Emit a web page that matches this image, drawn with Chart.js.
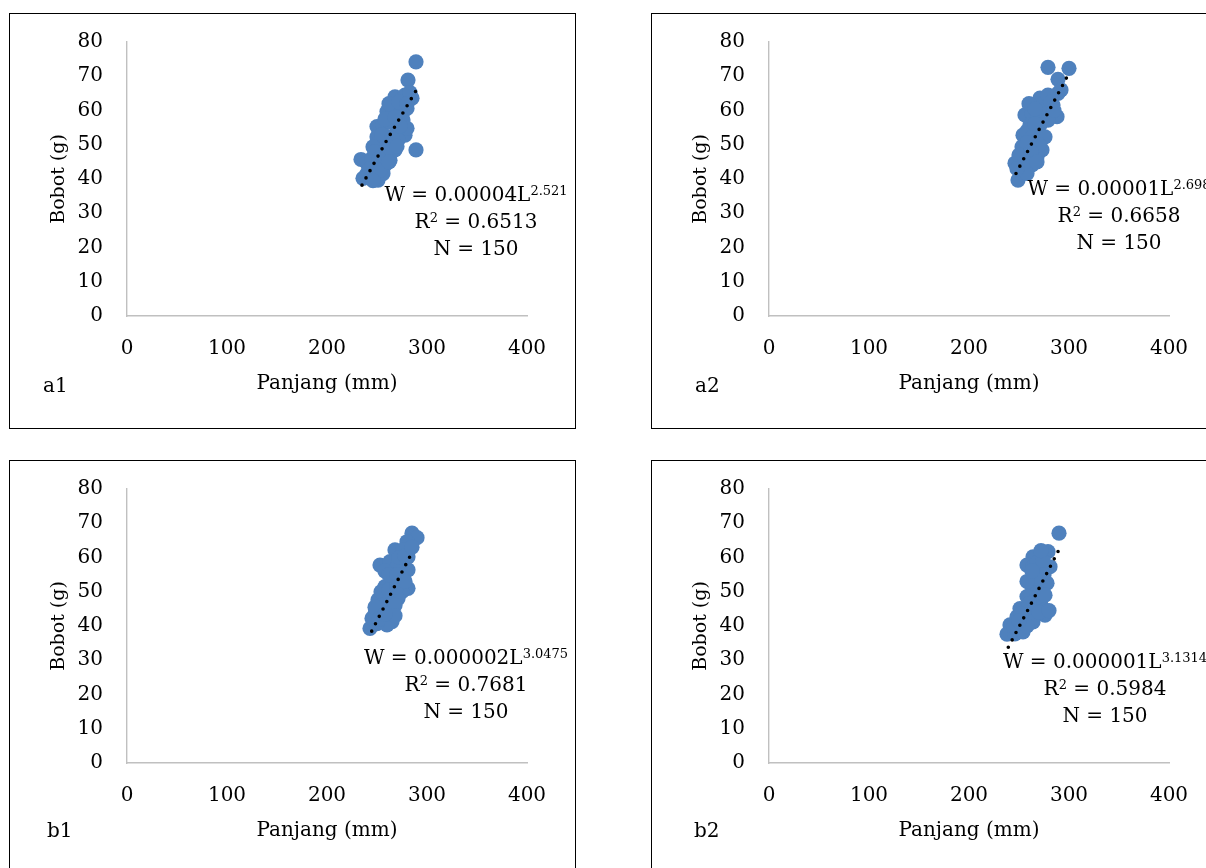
<!DOCTYPE html>
<html>
<head>
<meta charset="utf-8">
<script src="https://cdn.jsdelivr.net/npm/chart.js@4"></script>
<style>
html, body { margin:0; padding:0; width:1206px; height:868px; overflow:hidden; background:#fff; }
.panel { position:absolute; width:567px; height:416px; }
.panel canvas { position:absolute; left:0; top:0; }
.frame { position:absolute; left:0; top:0; width:567px; height:416px; box-sizing:border-box; border:1.5px solid #000; pointer-events:none; }
.tag { position:absolute; font-family:"DejaVu Serif"; font-size:20px; color:#000; line-height:24px; }
.eq { position:absolute; width:300px; text-align:center; font-family:"DejaVu Serif"; font-size:20px; color:#000; line-height:27px; white-space:nowrap; }
.eq sup { font-size:13px; vertical-align:0.5em; line-height:0; }
</style>
</head>
<body>

<div class="panel" style="left:9px;top:13px"><canvas id="c-a1" width="567" height="416"></canvas><div class="frame"></div><div class="tag" style="left:34px;top:360px">a1</div></div>
<div class="panel" style="left:651px;top:13px"><canvas id="c-a2" width="567" height="416"></canvas><div class="frame"></div><div class="tag" style="left:44px;top:360px">a2</div></div>
<div class="panel" style="left:9px;top:460px"><canvas id="c-b1" width="567" height="416"></canvas><div class="frame"></div><div class="tag" style="left:38px;top:358px">b1</div></div>
<div class="panel" style="left:651px;top:460px"><canvas id="c-b2" width="567" height="416"></canvas><div class="frame"></div><div class="tag" style="left:43px;top:358px">b2</div></div>

<div class="eq" style="left:326px;top:181px">W = 0.00004L<sup>2.521</sup><br>R<sup>2</sup> = 0.6513<br>N = 150</div>
<div class="eq" style="left:969px;top:175px">W = 0.00001L<sup>2.698</sup><br>R<sup>2</sup> = 0.6658<br>N = 150</div>
<div class="eq" style="left:316px;top:644px">W = 0.000002L<sup>3.0475</sup><br>R<sup>2</sup> = 0.7681<br>N = 150</div>
<div class="eq" style="left:955px;top:648px">W = 0.000001L<sup>3.1314</sup><br>R<sup>2</sup> = 0.5984<br>N = 150</div>

<script>
var xTicks = [0, 100, 200, 300, 400];
var yTicks = [0, 10, 20, 30, 40, 50, 60, 70, 80];

// a1
var a1Length = [289, 281, 268, 278, 285, 283, 260, 266, 275, 280, 250, 256, 276, 278, 270, 263, 280, 250, 253, 260, 271, 268, 246, 256, 234, 240, 245, 250, 263, 258, 240, 251, 236, 246, 256, 289,
                262, 272, 258, 268, 255, 265, 273, 248, 260, 252, 243, 253, 270, 262, 246, 280];
var a1Weight = [74.2, 68.9, 64.0, 64.5, 63.6, 65.2, 59.7, 60.1, 58.7, 60.6, 55.3, 55.8, 57.2, 52.8, 54.3, 56.7, 54.8, 52.3, 51.4, 52.3, 51.4, 48.5, 49.4, 47.0, 45.7, 44.6, 46.0, 44.0, 45.5, 44.1, 41.6, 39.7, 40.2, 42.1, 41.6, 48.5,
                62.0, 62.5, 57.5, 58.0, 53.0, 52.0, 55.5, 48.0, 48.5, 46.0, 43.0, 42.5, 49.5, 45.0, 39.5, 62.0];
var a1TrendL = [235, 259, 289];
var a1TrendW = [38.2, 50.9, 65.8];

// a2
var a2Length = [279, 300, 289, 271, 279, 289, 284, 288, 256, 263, 271, 278, 261, 271, 279, 254, 268, 276, 253, 264, 273, 258, 268, 246, 254, 263, 251, 249, 258,
                260, 266, 282, 258, 266, 262, 258, 270, 250, 262, 256, 248, 268, 285, 292];
var a2Weight = [72.6, 72.3, 69.1, 63.6, 64.5, 65.0, 61.6, 58.2, 58.7, 59.2, 59.6, 60.6, 55.8, 55.8, 57.2, 52.8, 52.8, 52.3, 49.4, 50.4, 48.5, 47.5, 46.5, 44.6, 44.6, 44.1, 42.1, 39.7, 41.6,
                62.0, 60.5, 62.5, 54.0, 56.0, 52.0, 50.5, 50.0, 47.0, 48.0, 45.0, 43.0, 45.0, 60.0, 66.0];
var a2TrendL = [247, 270, 298];
var a2TrendW = [41.6, 54.4, 69.8];

// b1
var b1Length = [285, 290, 280, 268, 276, 281, 253, 263, 271, 281, 266, 276, 258, 266, 281, 275, 251, 261, 271, 248, 256, 263, 265, 260, 243, 250, 245,
                272, 278, 258, 262, 270, 254, 262, 270, 278, 255, 268, 248, 252, 268, 258, 285];
var b1Weight = [67.1, 65.8, 64.6, 62.2, 62.2, 60.2, 57.8, 58.8, 57.8, 56.4, 54.9, 53.9, 51.5, 52.0, 51.0, 50.0, 47.6, 48.6, 48.0, 43.7, 45.1, 46.6, 41.3, 40.3, 39.3, 40.7, 42.2,
                60.0, 60.5, 56.0, 55.0, 55.0, 50.0, 50.5, 51.5, 53.0, 46.0, 46.0, 45.5, 42.0, 43.0, 43.5, 63.0];
var b1TrendL = [244.7, 267.3, 286.3];
var b1TrendW = [38.5, 51.4, 62.2];

// b2
var b2Length = [290, 279, 271, 264, 258, 264, 281, 271, 278, 263, 269, 258, 265, 272, 251, 276, 263, 248, 256, 264, 241, 253, 238, 246, 254,
                268, 274, 275, 266, 258, 268, 276, 260, 252, 270, 245, 258, 272, 263, 250, 280];
var b2Weight = [67.1, 61.7, 60.7, 60.2, 57.8, 57.3, 57.3, 53.9, 52.5, 51.5, 50.0, 48.6, 47.1, 46.1, 45.1, 43.2, 44.1, 42.7, 41.7, 41.2, 40.3, 39.8, 37.6, 37.7, 38.3,
                58.5, 59.0, 55.0, 54.0, 53.0, 48.5, 49.0, 46.5, 43.5, 44.0, 40.0, 40.0, 62.0, 56.0, 41.5, 44.5];
var b2TrendL = [239.3, 262.3, 289.3];
var b2TrendW = [33.8, 46.6, 61.9];

function pairs(xs, ys) {
    var out = [];
    for (var i = 0; i < xs.length; i++) {
        out.push({x: xs[i], y: ys[i]});
    }
    return out;
}

var serif = "'DejaVu Serif', serif";

function drawPanel(id, len, wt, trendL, trendW) {
    var ctx = document.getElementById(id);
    return new Chart(ctx, {
        type: 'scatter',
        data: {
            datasets: [{
                data: pairs(trendL, trendW),
                type: 'line',
                showLine: true,
                pointRadius: 0,
                borderColor: '#000',
                borderWidth: 3.6,
                borderDash: [0, 8.3],
                borderCapStyle: 'round',
                fill: false,
                order: 0
            }, {
                data: pairs(len, wt),
                backgroundColor: '#4f81bd',
                borderWidth: 0,
                pointRadius: 7.6,
                pointHoverRadius: 7.6,
                order: 1
            }]
        },
        options: {
            responsive: false,
            animation: false,
            events: [],
            layout: { padding: { left: 0, top: 29, right: 49, bottom: 33 } },
            plugins: { legend: { display: false }, tooltip: { enabled: false } },
            scales: {
                x: {
                    type: 'linear',
                    min: xTicks[0],
                    max: xTicks[xTicks.length - 1],
                    afterBuildTicks: function(s) { s.ticks = xTicks.map(function(v){ return {value: v}; }); },
                    grid: { display: false, drawTicks: false },
                    border: { display: true, color: '#c0c0c0', width: 1.4 },
                    ticks: { color: '#000', padding: 21, font: { family: serif, size: 20 } },
                    title: { display: true, text: 'Panjang (mm)', color: '#000', padding: { top: 0, bottom: 0 }, font: { family: serif, size: 20 } },
                    afterFit: function(s) { s.height = 80; }
                },
                y: {
                    type: 'linear',
                    min: yTicks[0],
                    max: yTicks[yTicks.length - 1],
                    afterBuildTicks: function(s) { s.ticks = yTicks.map(function(v){ return {value: v}; }); },
                    grid: { display: false, drawTicks: false },
                    border: { display: true, color: '#c0c0c0', width: 1.4 },
                    ticks: { color: '#000', padding: 24, font: { family: serif, size: 20 } },
                    title: { display: true, text: 'Bobot (g)', color: '#000', padding: { top: 39, bottom: 0 }, font: { family: serif, size: 19 } },
                    // keep the plot top fixed by the layout padding only
                    afterFit: function(s) { s.width = 118; s.paddingTop = 0; s.paddingBottom = 0; }
                }
            }
        }
    });
}

drawPanel('c-a1', a1Length, a1Weight, a1TrendL, a1TrendW);
drawPanel('c-a2', a2Length, a2Weight, a2TrendL, a2TrendW);
drawPanel('c-b1', b1Length, b1Weight, b1TrendL, b1TrendW);
drawPanel('c-b2', b2Length, b2Weight, b2TrendL, b2TrendW);
</script>
</body>
</html>
